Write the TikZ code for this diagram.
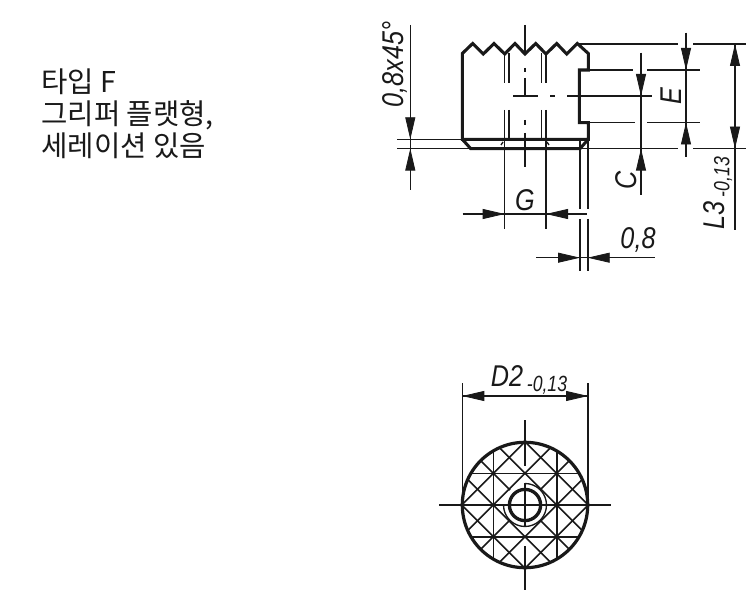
\documentclass[tikz,border=0pt]{standalone}
\usepackage{fontspec}
\usepackage{graphicx}
\setmainfont{Liberation Sans}
\newfontfamily\krfont{Noto Sans CJK KR}
\usetikzlibrary{arrows.meta,calc}
\newcommand\dimtxt[1]{\scalebox{.84}[1]{\fontsize{22.5pt}{22.5pt}\selectfont\itshape #1}}
\newcommand\tolbig[1]{\scalebox{.8}[1]{\fontsize{16.5pt}{16.5pt}\selectfont\itshape #1}}
\tikzset{
 thin line/.style={line width=1pt,black!90},
 knurl line/.style={line width=1.2pt,black!90},
 thick line/.style={line width=2.3pt,black!90,line join=miter},
 head/.style={draw=black!90,line width=.6pt,-{Triangle[length=16.5pt,width=7.5pt,fill=black!90]}},
 dimlabel/.style={inner sep=0pt,text=black!90},
 krlabel/.style={inner sep=0pt,anchor=base west,text=black!90,font=\krfont\fontsize{21.5pt}{21.5pt}\selectfont},
}
\begin{document}
\begin{tikzpicture}[x=.75pt,y=-.75pt]
\useasboundingbox (0,0) rectangle (750,595);
\fill[white] (0,0) rectangle (750,595);
% caption
\node[krlabel] (t1) at (41,93) {타입 F};
\node[krlabel] (t2) at (41,125) {그리퍼 플랫형,};
\node[krlabel] (t3) at (41,157) {세레이션 있음};
% ===== side view: body
\draw[thick line] (462.3,139.3) -- (462.3,53.5) -- (472.7,43.5) -- (483.3,54) -- (494,43.5) -- (504.7,54) -- (515,43.5) -- (525,54) -- (535.7,43.5) -- (546,54) -- (556.7,43.5) -- (566.7,54) -- (577.3,43.5) -- (588.3,53.5) -- (588.3,70) -- (579.3,70) -- (579.3,122.7) -- (588.3,122.7) -- (588.3,139.3) -- cycle;
\draw[thick line] (462.3,139.3) -- (470.7,148.6) -- (580,148.6) -- (588.3,139.3);
% thread lines
\draw[thin line] (504.7,53) -- (504.7,83) (504.7,110) -- (504.7,229);
\draw[thin line] (509,53) -- (509,83) (509,110) -- (509,139);
\draw[thin line] (541.3,53) -- (541.3,83) (541.3,110) -- (541.3,139);
\draw[thin line] (546,53) -- (546,83) (546,110) -- (546,229);
\draw[thin line] (501,145) -- (503,142) (549,145) -- (547,142);
% centre lines
\draw[thin line] (525,25) -- (525,55) (525,68) -- (525,72) (525,78) -- (525,97) (525,120) -- (525,125) (525,133) -- (525,167);
\draw[thin line] (513.3,96) -- (537.7,96) (550,96) -- (555,96) (567,96) -- (652,96);
% extension lines
\draw[thin line] (397,139.3) -- (462.3,139.3);
\draw[thin line] (397,148.6) -- (470,148.6) (580,148.6) -- (678,148.6) (693,148.6) -- (746,148.6);
\draw[thin line] (577.3,44) -- (678,44) (693,44) -- (746,44);
\draw[thin line] (588,70) -- (632.7,70) (647,70) -- (700,70);
\draw[thin line] (588,122.5) -- (635,122.5) (647,122.5) -- (700,122.5);
\draw[thin line] (580,139) -- (580,209) (580,219) -- (580,271);
\draw[line width=1.3pt,black!90] (587.7,139) -- (587.7,209) (587.7,219) -- (587.7,271);
% 0,8x45
\draw[thin line] (410.3,25) -- (410.3,190);
\draw[head] (410.3,116) -- (410.3,139.3);
\draw[head] (410.3,171) -- (410.3,148.6);
\node[dimlabel,rotate=90] (l1) at (395,64.5) {\dimtxt{0,8x45°}};
% C
\draw[thin line] (641,52.7) -- (641,195);
\draw[head] (641,72) -- (641,96);
\draw[head] (641,172) -- (641,148.6);
\node[dimlabel,rotate=90] (l2) at (626.5,180) {\dimtxt{C}};
% E
\draw[thin line] (686,32.7) -- (686,156.7);
\draw[head] (686,47) -- (686,70);
\draw[head] (686,146) -- (686,122.5);
\node[dimlabel,rotate=90] (l3) at (671,96.5) {\dimtxt{E}};
% L3
\draw[thin line] (735,44) -- (735,230);
\draw[head] (735,67) -- (735,44);
\draw[head] (735,124) -- (735,148.6);
\node[dimlabel,rotate=90] (l4) at (714.5,215) {\dimtxt{L3}};
\node[dimlabel,rotate=90] (l5) at (723,177) {\tolbig{-0,13}};
% G
\draw[thin line] (462.7,214) -- (586.7,214);
\draw[head] (481,214) -- (504.7,214);
\draw[head] (568,214) -- (546,214);
\node[dimlabel] (l6) at (525,200) {\dimtxt{G}};
% 0,8
\draw[thin line] (536,257.7) -- (655,257.7);
\draw[head] (556,257.7) -- (580,257.7);
\draw[head] (611.7,257.7) -- (587.7,257.7);
\node[dimlabel] (l7) at (638,240) {\dimtxt{0,8}};
% ===== front view
\begin{scope}
\clip (525,505) circle (62.7);
\foreach \k in {-2,...,2}{
  \draw[knurl line] ($(525,505)+(\k*31.67,0)+(-100,-100)$) -- ($(525,505)+(\k*31.67,0)+(100,100)$);
  \draw[knurl line] ($(525,505)+(\k*31.67,0)+(-100,100)$) -- ($(525,505)+(\k*31.67,0)+(100,-100)$);
}
\draw[knurl line] (493.3,430) -- (493.3,580) (556.7,430) -- (556.7,580);
\draw[knurl line] (450,473.3) -- (600,473.3) (450,536.7) -- (600,536.7);
\end{scope}
\fill[white] (525,505) circle (21);
\draw[line width=2.4pt,black!90] (525,505) circle (62.7);
\draw[thin line] (525,483.5) arc[start angle=-90,end angle=180,radius=21.5];
\draw[line width=2.5pt,black!90] (525,505) circle (15.6);
\draw[thin line] (439.3,505) -- (611,505);
\draw[thin line] (525,420) -- (525,466) (525,483) -- (525,527) (525,546) -- (525,590);
% D2
\draw[thin line] (462.3,383.5) -- (462.3,505) (588,383.5) -- (588,505);
\draw[thin line] (462.3,396) -- (588,396);
\draw[head] (486.7,396) -- (462.3,396);
\draw[head] (565,396) -- (588,396);
\node[dimlabel] (l8) at (507,376) {\dimtxt{D2}};
\node[dimlabel] (l9) at (547,385) {\tolbig{-0,13}};
\end{tikzpicture}
\end{document}
